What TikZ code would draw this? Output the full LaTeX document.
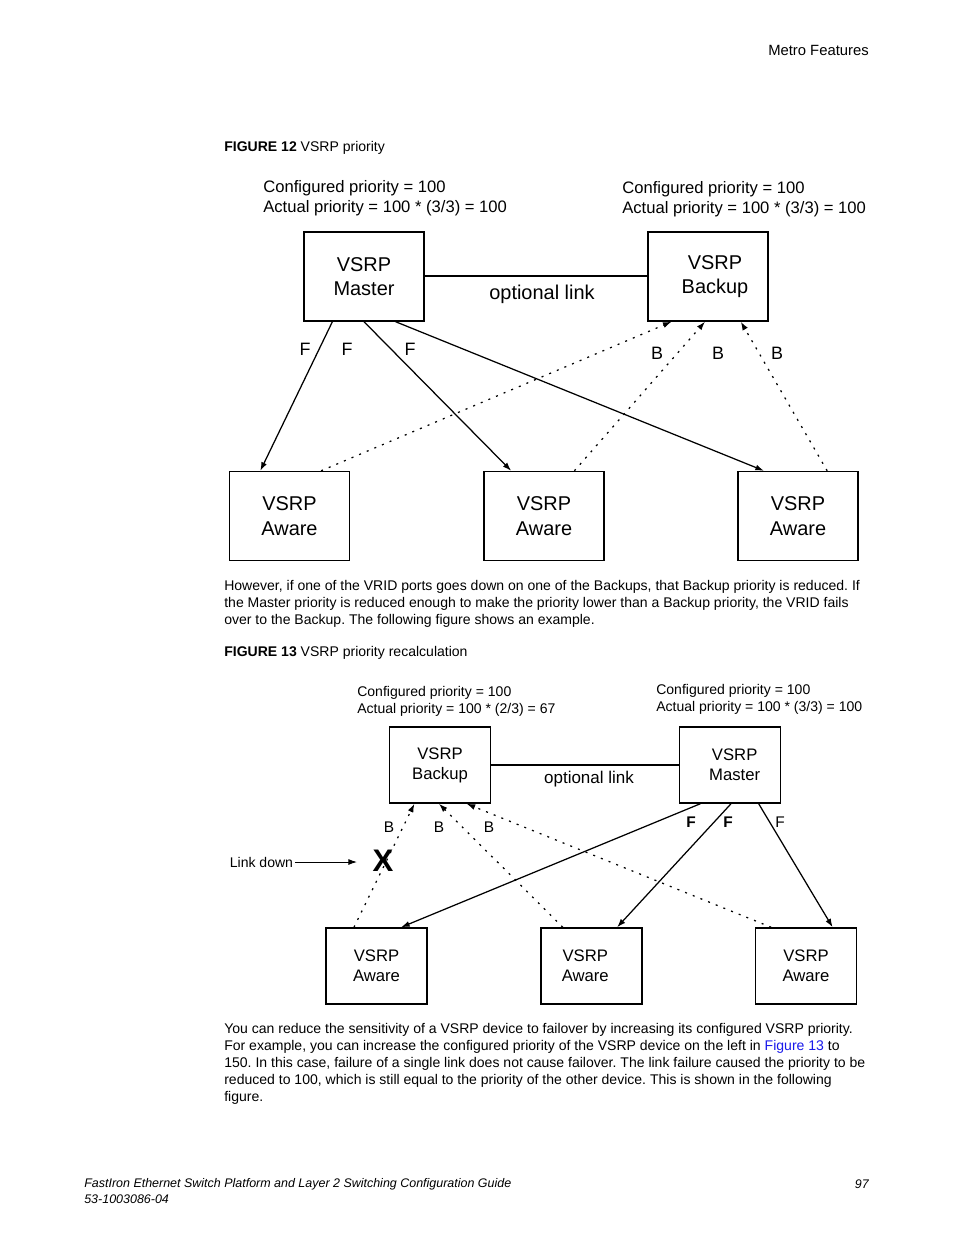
\documentclass[tikz,border=0pt]{standalone}
\usepackage{fontspec}
\setmainfont{Liberation Sans}
\usepackage{xcolor}
\usetikzlibrary{calc,arrows.meta}
\definecolor{linkblue}{RGB}{25,25,235}
\newcommand{\bodysize}{\fontsize{9}{11}\selectfont}
\frenchspacing

\tikzset{
  bigbox/.style={draw, line width=1pt, inner sep=0pt, minimum width=77pt, minimum height=57pt,
    align=center, font=\fontsize{12.8}{15.7}\selectfont},
  smallbox/.style={draw, line width=0.9pt, inner sep=0pt, minimum width=64.8pt, minimum height=48.8pt,
    align=center, font=\fontsize{10.7}{12.8}\selectfont},
  fwd/.style={line width=0.8pt, ->},
  bwd/.style={line width=0.8pt, ->, dash pattern=on 1.3pt off 4pt},
  bodytext/.style={anchor=west, inner sep=0pt, font=\bodysize},
}

\begin{document}
\begin{tikzpicture}[x=0.6415pt,y=-0.6415pt,>={Latex[length=5.5pt,width=3.8pt]}]
\useasboundingbox[fill=white] (0,0) rectangle (954,1235);

\node[anchor=east, inner sep=0pt, font=\fontsize{9.5}{11}\selectfont] (header) at (869,50) {Metro Features};
\node[bodytext] (cap12) at (224,148) {\textbf{FIGURE 12} VSRP priority};

% figure 12
\node[anchor=west, inner sep=0pt, align=left, font=\fontsize{10.65}{12.8}\selectfont] (prioA) at (263,198)
  {Configured priority = 100\\Actual priority = 100 * (3/3) = 100};
\node[anchor=west, inner sep=0pt, align=left, font=\fontsize{10.65}{12.8}\selectfont] (prioB) at (622,199)
  {Configured priority = 100\\Actual priority = 100 * (3/3) = 100};
\node[bigbox] (master) at (364,276.5) {VSRP\\Master};
\node[bigbox] (backup) at (708,276.5) {\hspace*{9pt}VSRP\\\hspace*{9pt}Backup};
\node[bigbox] (awareA) at (289.5,516) {VSRP\\Aware};
\node[bigbox] (awareB) at (544,516) {VSRP\\Aware};
\node[bigbox] (awareC) at (798,516) {VSRP\\Aware};
\draw[line width=1.2pt] (master.east |- 0,276) -- (backup.west |- 0,276);
\node[font=\fontsize{12.8}{15}\selectfont] (optA) at (542,294) {optional link};

\draw[fwd] ($(master.south west)!0.24!(master.south east)$) -- ($(awareA.north west)!0.26!(awareA.north east)$);
\draw[fwd] ($(master.south west)!0.5!(master.south east)$) -- ($(awareB.north west)!0.23!(awareB.north east)$);
\draw[fwd] ($(master.south west)!0.76!(master.south east)$) -- ($(awareC.north west)!0.22!(awareC.north east)$);
\draw[bwd] ($(awareA.north west)!0.76!(awareA.north east)$) -- ($(backup.south west)!0.2!(backup.south east)$);
\draw[bwd] ($(awareB.north west)!0.75!(awareB.north east)$) -- ($(backup.south west)!0.475!(backup.south east)$);
\draw[bwd] ($(awareC.north west)!0.74!(awareC.north east)$) -- ($(backup.south west)!0.77!(backup.south east)$);

\foreach \x/\n in {305/fa,347/fb,410/fc}
  \node[font=\fontsize{11.5}{13}\selectfont] (\n) at (\x,349) {F};
\foreach \x/\n in {657/ba,718/bb,777/bc}
  \node[font=\fontsize{11.5}{13}\selectfont] (\n) at (\x,353) {B};

% text between the figures
\node[bodytext] (parA1) at (224,587) {However, if one of the VRID ports goes down on one of the Backups, that Backup priority is reduced. If};
\node[bodytext] (parA2) at (224,604) {the Master priority is reduced enough to make the priority lower than a Backup priority, the VRID fails};
\node[bodytext] (parA3) at (224,621) {over to the Backup. The following figure shows an example.};
\node[bodytext] (cap13) at (224,653) {\textbf{FIGURE 13} VSRP priority recalculation};

% figure 13
\node[anchor=west, inner sep=0pt, align=left, font=\fontsize{9}{10.9}\selectfont] (prioC) at (357,701.5)
  {Configured priority = 100\\Actual priority = 100 * (2/3) = 67};
\node[anchor=west, inner sep=0pt, align=left, font=\fontsize{9}{10.9}\selectfont] (prioD) at (656,699.5)
  {Configured priority = 100\\Actual priority = 100 * (3/3) = 100};
\node[smallbox] (backup2) at (440,765) {VSRP\\Backup};
\node[smallbox] (master2) at (730,765) {\hspace*{6pt}VSRP\\\hspace*{6pt}Master};
\node[smallbox] (awareD) at (376.5,966) {VSRP\\Aware};
\node[smallbox] (awareE) at (591.5,966) {VSRP\hspace*{8pt}\\Aware\hspace*{8pt}};
\node[smallbox] (awareF) at (806,966) {VSRP\\Aware};
\draw[line width=1pt] (backup2.east) -- (master2.west);
\node[font=\fontsize{10.9}{13}\selectfont] (optB) at (589,779) {optional link};

\draw[fwd] ($(master2.south west)!0.21!(master2.south east)$) -- ($(awareD.north west)!0.74!(awareD.north east)$);
\draw[fwd] ($(master2.south west)!0.51!(master2.south east)$) -- ($(awareE.north west)!0.75!(awareE.north east)$);
\draw[fwd] ($(master2.south west)!0.78!(master2.south east)$) -- ($(awareF.north west)!0.76!(awareF.north east)$);
\draw[bwd] ($(awareD.north west)!0.28!(awareD.north east)$) -- ($(backup2.south west)!0.25!(backup2.south east)$);
\draw[bwd] ($(awareE.north west)!0.22!(awareE.north east)$) -- ($(backup2.south west)!0.49!(backup2.south east)$);
\draw[bwd] ($(awareF.north west)!0.16!(awareF.north east)$) -- ($(backup2.south west)!0.76!(backup2.south east)$);

\node[font=\bfseries\fontsize{9.9}{12}\selectfont] (fd) at (691,822) {F};
\node[font=\bfseries\fontsize{9.9}{12}\selectfont] (fe) at (728,822) {F};
\node[font=\fontsize{9.9}{12}\selectfont] (ff) at (780,822) {F};
\foreach \x/\n in {389/bd,439/be,489/bf}
  \node[font=\fontsize{9.9}{12}\selectfont] (\n) at (\x,827) {B};
\node[font=\bfseries\fontsize{20}{22}\selectfont, inner sep=0pt] (cross) at (383,861) {X};
\node[anchor=west, inner sep=1pt, font=\fontsize{9}{11}\selectfont] (linkdown) at (228,862) {Link down};
\coordinate (xtip) at (357,862);
\draw[line width=0.6pt, ->] (linkdown.east) -- (xtip);

% text below
\node[bodytext] (parB1) at (224,1030) {You can reduce the sensitivity of a VSRP device to failover by increasing its configured VSRP priority.};
\node[bodytext] (parB2) at (224,1047) {For example, you can increase the configured priority of the VSRP device on the left in \textcolor{linkblue}{Figure 13} to};
\node[bodytext] (parB3) at (224,1064) {150. In this case, failure of a single link does not cause failover. The link failure caused the priority to be};
\node[bodytext] (parB4) at (224,1081) {reduced to 100, which is still equal to the priority of the other device. This is shown in the following};
\node[bodytext] (parB5) at (224,1098) {figure.};

% footer
\node[bodytext, font=\fontsize{8}{10}\selectfont\itshape] (footA) at (84,1184) {FastIron Ethernet Switch Platform and Layer 2 Switching Configuration Guide};
\node[bodytext, font=\fontsize{8}{10}\selectfont\itshape] (footB) at (84,1199) {53-1003086-04};
\node[anchor=east, inner sep=0pt, font=\fontsize{8}{10}\selectfont\itshape] (pageno) at (869,1184) {97};
\end{tikzpicture}
\end{document}
